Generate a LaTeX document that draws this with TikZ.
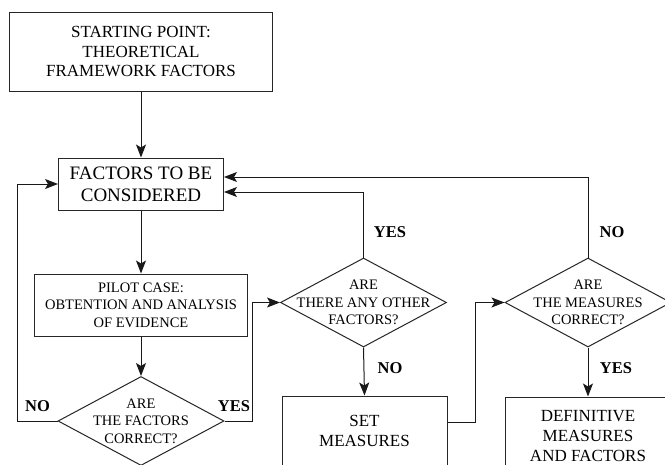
\documentclass[tikz,border=0pt]{standalone}
\usepackage{fontspec}
\setmainfont{Liberation Serif}
\usetikzlibrary{shapes.geometric,arrows.meta,calc}
\begin{document}
\begin{tikzpicture}[x=1pt,y=-1pt,
 box/.style={draw=black!85, line width=1pt, rectangle, inner sep=0pt, align=center},
 dia/.style={draw=black!85, line width=1pt, diamond, inner sep=0pt, minimum width=166pt, minimum height=89pt},
 dtxt/.style={align=center, font=\fontsize{14.5}{17.5}\selectfont},
 lbl/.style={font=\bfseries\fontsize{16.5}{18}\selectfont},
 conn/.style={line width=1pt, draw=black!90},
 arr/.style={conn, -{Stealth[length=13pt,width=10pt,inset=3pt]}}]
\useasboundingbox (0,0) rectangle (665,464);
\clip (0,0) rectangle (665,464);
\fill[white] (0,0) rectangle (665,464);
% boxes
\node[box, minimum width=263pt, minimum height=79pt, font=\fontsize{17}{19.5}\selectfont] (start) at (141,51.5) {STARTING POINT:\\THEORETICAL\\FRAMEWORK FACTORS};
\node[box, minimum width=165pt, minimum height=52pt, font=\fontsize{19}{22}\selectfont] (factors) at (141,184) {FACTORS TO BE\\CONSIDERED};
\node[box, minimum width=213pt, minimum height=62pt, font=\fontsize{14.5}{17.5}\selectfont] (pilot) at (141,305) {PILOT CASE:\\OBTENTION AND ANALYSIS\\OF EVIDENCE};
\node[box, minimum width=165pt, minimum height=70pt, font=\fontsize{17}{20}\selectfont] (set) at (364.5,431) {SET\\MEASURES};
\node[box, minimum width=166pt, minimum height=78pt, font=\fontsize{17}{20}\selectfont] (def) at (588,436) {DEFINITIVE\\MEASURES\\AND FACTORS};
% decisions
\node[dia] (d1) at (141,421) {};
\node[dtxt] (t1) at (d1.center) {ARE\\THE FACTORS\\CORRECT?};
\node[dia] (d2) at (363.5,302.5) {};
\node[dtxt] (t2) at (d2.center) {ARE\\THERE ANY OTHER\\FACTORS?};
\node[dia] (d3) at (588,302.5) {};
\node[dtxt] (t3) at (d3.center) {ARE\\THE MEASURES\\CORRECT?};
% coordinates
\coordinate (L) at (17,421);
\coordinate (R1) at (252,421);
\coordinate (U2) at (363.5,192);
\coordinate (U3) at (588,177);
\coordinate (R2) at (475,422);
% connectors
\draw[arr] (start.south) -- (factors.north);
\draw[arr] (factors.south) -- (pilot.north);
\draw[arr] (pilot.south) -- (d1.north);
\draw[arr] (d1.west) -- (L) |- (factors.west);
\draw[arr] (d1.east) -- (R1) |- (d2.west);
\draw[arr] (d2.north) -- (U2) -- (U2 -| factors.east);
\draw[arr] (d3.north) -- (U3) -- (U3 -| factors.east);
\draw[arr] (d2.south) -- (set.north);
\draw[arr] (set.east |- R2) -- (R2) |- (d3.west);
\draw[arr] (d3.south) -- (def.north);
% labels
\node[lbl] (noL) at (37.5,406) {NO};
\node[lbl] (yesR) at (234,406) {YES};
\node[lbl] (yes2) at (390,232) {YES};
\node[lbl] (no2) at (390,368) {NO};
\node[lbl] (no3) at (612,232) {NO};
\node[lbl] (yes3) at (616,368) {YES};
\end{tikzpicture}
\end{document}
